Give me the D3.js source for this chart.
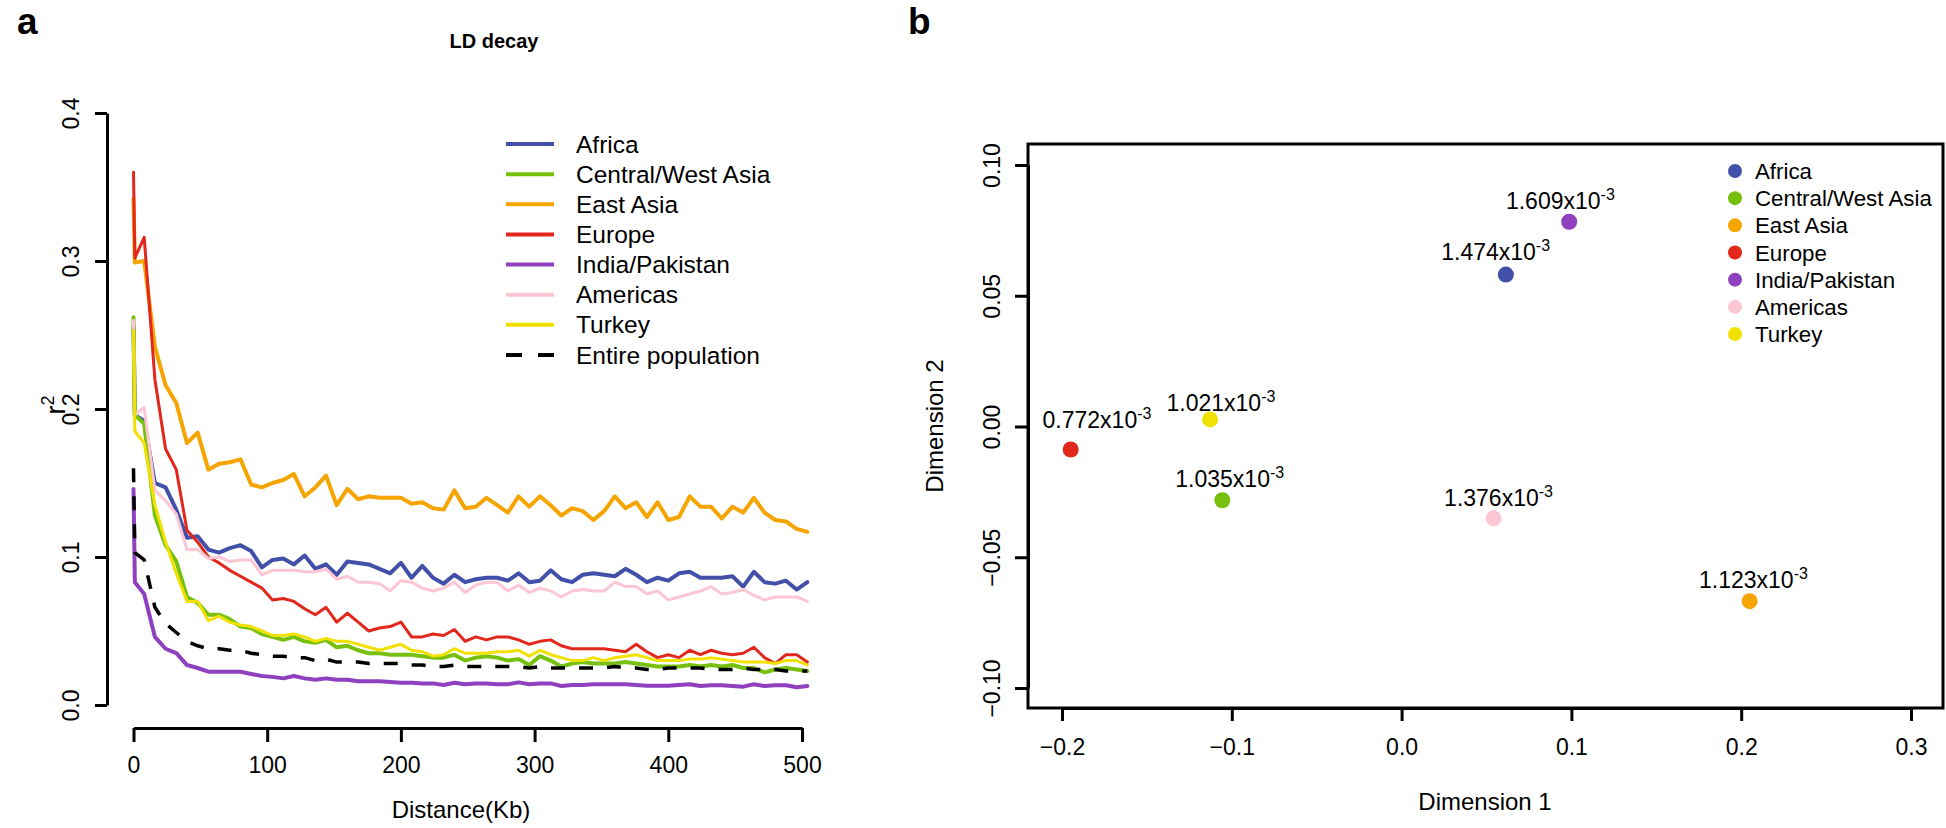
<!DOCTYPE html>
<html><head><meta charset="utf-8">
<script src="https://cdn.jsdelivr.net/npm/d3@7"></script>
<style>
body{margin:0;background:#fff;}
svg text{font-family:"Liberation Sans",Arial,Helvetica,sans-serif;fill:#000;}
</style>
</head><body>
<svg id="chart" width="1946" height="828"></svg>
<script>
// ---------- DATA ----------
const populations = ["Africa","Central/West Asia","East Asia","Europe","India/Pakistan","Americas","Turkey"];
const popColors   = ["#4350A9","#77C10E","#F6A400","#E2281C","#8E40BE","#FCC6D3","#F0E100"];
const entireLabel = "Entire population";

const distanceKb = [0,1,8,16,24,32,40,48,56,64,72,80,88,96,104,112,120,128,136,144,152,160,168,176,184,192,200,208,216,224,232,240,248,256,264,272,280,288,296,304,312,320,328,336,344,352,360,368,376,384,392,400,408,416,424,432,440,448,456,464,472,480,488,496,504];

const ldAfrica = [0.255,0.196,0.192,0.150,0.147,0.132,0.113,0.114,0.105,0.103,0.106,0.108,0.104,0.093,0.098,0.099,0.095,0.101,0.092,0.095,0.088,0.097,0.096,0.095,0.092,0.089,0.096,0.086,0.094,0.086,0.082,0.088,0.083,0.085,0.086,0.086,0.084,0.089,0.083,0.084,0.091,0.085,0.083,0.088,0.089,0.088,0.087,0.092,0.088,0.083,0.086,0.084,0.089,0.090,0.086,0.086,0.086,0.087,0.080,0.090,0.083,0.082,0.084,0.078,0.083];
const ldCentralWestAsia = [0.262,0.196,0.190,0.128,0.108,0.097,0.073,0.069,0.061,0.061,0.058,0.053,0.052,0.048,0.046,0.044,0.046,0.043,0.042,0.044,0.039,0.040,0.037,0.035,0.035,0.034,0.034,0.034,0.033,0.032,0.032,0.034,0.030,0.032,0.033,0.032,0.030,0.031,0.027,0.033,0.030,0.026,0.028,0.029,0.028,0.028,0.028,0.029,0.028,0.027,0.026,0.026,0.026,0.027,0.026,0.027,0.026,0.027,0.025,0.025,0.022,0.024,0.025,0.024,0.023];
const ldEastAsia = [0.342,0.299,0.300,0.242,0.216,0.204,0.177,0.184,0.159,0.163,0.164,0.166,0.149,0.147,0.150,0.152,0.156,0.141,0.147,0.155,0.135,0.146,0.139,0.141,0.140,0.140,0.140,0.136,0.137,0.133,0.132,0.145,0.133,0.134,0.140,0.135,0.130,0.141,0.134,0.141,0.135,0.128,0.133,0.131,0.125,0.131,0.141,0.133,0.137,0.127,0.137,0.125,0.127,0.141,0.134,0.134,0.126,0.134,0.130,0.140,0.130,0.125,0.124,0.119,0.117];
const ldEurope = [0.360,0.302,0.316,0.220,0.173,0.159,0.118,0.110,0.100,0.096,0.091,0.087,0.083,0.079,0.071,0.072,0.070,0.065,0.061,0.066,0.056,0.062,0.056,0.050,0.052,0.053,0.056,0.046,0.046,0.048,0.047,0.051,0.043,0.046,0.044,0.046,0.046,0.044,0.041,0.043,0.044,0.040,0.038,0.038,0.038,0.038,0.037,0.036,0.041,0.036,0.032,0.034,0.032,0.037,0.034,0.037,0.035,0.034,0.035,0.039,0.032,0.028,0.034,0.034,0.029];
const ldIndiaPakistan = [0.146,0.083,0.075,0.046,0.038,0.035,0.027,0.025,0.0225,0.0225,0.0225,0.0225,0.021,0.0196,0.019,0.018,0.0196,0.018,0.017,0.018,0.017,0.017,0.016,0.016,0.016,0.0155,0.015,0.015,0.0146,0.0146,0.0135,0.015,0.014,0.0146,0.0146,0.014,0.014,0.0153,0.014,0.0146,0.0146,0.0128,0.0135,0.0135,0.014,0.014,0.014,0.014,0.0135,0.013,0.013,0.013,0.0135,0.014,0.0128,0.0133,0.0133,0.0128,0.0124,0.014,0.0128,0.0133,0.0133,0.012,0.0128];
const ldAmericas = [0.260,0.196,0.201,0.145,0.138,0.129,0.105,0.105,0.099,0.100,0.097,0.098,0.098,0.088,0.091,0.091,0.091,0.090,0.090,0.092,0.085,0.087,0.083,0.083,0.082,0.077,0.084,0.083,0.079,0.077,0.079,0.083,0.076,0.081,0.083,0.083,0.077,0.081,0.076,0.079,0.077,0.073,0.077,0.078,0.077,0.077,0.083,0.080,0.080,0.075,0.077,0.071,0.073,0.075,0.077,0.080,0.075,0.076,0.078,0.074,0.071,0.073,0.073,0.073,0.070];
const ldTurkey = [0.253,0.185,0.177,0.135,0.110,0.089,0.070,0.070,0.057,0.060,0.056,0.054,0.053,0.050,0.047,0.047,0.048,0.046,0.043,0.045,0.043,0.043,0.041,0.039,0.037,0.039,0.041,0.037,0.036,0.033,0.034,0.038,0.035,0.035,0.035,0.036,0.036,0.037,0.033,0.037,0.034,0.032,0.030,0.030,0.032,0.030,0.032,0.033,0.034,0.032,0.030,0.030,0.030,0.031,0.031,0.032,0.031,0.030,0.029,0.029,0.029,0.028,0.030,0.030,0.027];
const ldEntire = [0.160,0.103,0.098,0.066,0.055,0.049,0.043,0.040,0.038,0.038,0.037,0.037,0.035,0.034,0.033,0.033,0.032,0.032,0.030,0.031,0.029,0.029,0.029,0.028,0.028,0.028,0.028,0.027,0.027,0.026,0.026,0.027,0.026,0.026,0.026,0.026,0.026,0.026,0.025,0.026,0.025,0.025,0.025,0.025,0.025,0.025,0.026,0.025,0.025,0.024,0.024,0.025,0.025,0.025,0.025,0.024,0.024,0.024,0.025,0.024,0.024,0.024,0.023,0.023,0.023];

const xTicksA = [0,100,200,300,400,500];
const yTicksA = [0,0.1,0.2,0.3,0.4];

// panel b: MDS coordinates, in the same order as populations
const mdsDim1 = [0.0614,-0.1056,0.205,-0.1949,0.0987,0.0542,-0.1128];
const mdsDim2 = [0.0581,-0.0282,-0.0668,-0.0088,0.0783,-0.0351,0.0027];
const diversity = ["1.474","1.035","1.123","0.772","1.609","1.376","1.021"];
const labelDim1 = [0.0554,-0.1012,0.2072,-0.1794,0.0935,0.0571,-0.1064];
const labelDim2 = [0.0637,-0.0233,-0.0616,-0.0004,0.0832,-0.0305,0.0061];
const xTicksB = [-0.2,-0.1,0,0.1,0.2,0.3];
const yTicksB = [-0.1,-0.05,0,0.05,0.1];

// ---------- DRAWING ----------
const svg = d3.select("#chart");
const FS = 23;

function styleAxis(g){
  g.attr("font-family",null).attr("font-size",null);
  g.select(".domain").attr("stroke","#000").attr("stroke-width",3);
  g.selectAll(".tick line").attr("stroke","#000").attr("stroke-width",3);
  g.selectAll(".tick text").attr("font-size",FS).attr("fill","#000");
}

// ===== Panel a =====
const xA = d3.scaleLinear().domain([0,500]).range([133.5,802]);
const yA = d3.scaleLinear().domain([0,0.4]).range([705,113]);

svg.append("text").attr("x",17).attr("y",34).attr("font-size",37).attr("font-weight","bold").text("a");
svg.append("text").attr("x",494).attr("y",48).attr("text-anchor","middle").attr("font-size",20).attr("font-weight","bold").text("LD decay");

const gxA = svg.append("g").attr("transform","translate(0,728)")
  .call(d3.axisBottom(xA).tickValues(xTicksA).tickSize(14).tickSizeOuter(0).tickPadding(15).tickFormat(d3.format("d")));
styleAxis(gxA);

const gyA = svg.append("g").attr("transform","translate(107,0)")
  .call(d3.axisLeft(yA).tickValues(yTicksA).tickSize(12).tickSizeOuter(0).tickFormat(d3.format(".1f")));
styleAxis(gyA);
gyA.selectAll(".tick text").attr("transform","rotate(-90)").attr("x",0).attr("y",-28).attr("dy",0).attr("text-anchor","middle");

svg.append("text").attr("x",461).attr("y",818).attr("text-anchor","middle").attr("font-size",24).text("Distance(Kb)");
const rl = svg.append("text").attr("transform","translate(65,405) rotate(-90)").attr("text-anchor","middle").attr("font-size",27);
rl.append("tspan").text("r");
rl.append("tspan").attr("font-size",18).attr("dy",-11).text("2");

const seriesA = [
  {vals: ldAfrica, color: popColors[0], w: 4},
  {vals: ldCentralWestAsia, color: popColors[1], w: 4},
  {vals: ldEastAsia, color: popColors[2], w: 4},
  {vals: ldEurope, color: popColors[3], w: 3},
  {vals: ldIndiaPakistan, color: popColors[4], w: 4},
  {vals: ldAmericas, color: popColors[5], w: 3},
  {vals: ldTurkey, color: popColors[6], w: 3},
  {vals: ldEntire, color: "#000", w: 3.5, dash: "14 14"}
];
const lineA = d3.line().x((d,i)=>xA(distanceKb[i])).y(d=>yA(d));
svg.append("g").selectAll("path").data(seriesA).join("path")
  .attr("d", s=>lineA(s.vals))
  .attr("fill","none").attr("stroke",s=>s.color).attr("stroke-width",s=>s.w)
  .attr("stroke-linejoin","round").attr("stroke-linecap",s=>s.dash?"butt":"round")
  .attr("stroke-dasharray",s=>s.dash||null);

// legend a
const legA = svg.append("g");
const legAItems = populations.map((p,i)=>({label:p,color:popColors[i],dash:null})).concat([{label:entireLabel,color:"#000",dash:"16 16"}]);
const legAy = d3.scalePoint().domain(d3.range(legAItems.length)).range([144,355]);
legA.selectAll("line").data(legAItems).join("line")
  .attr("x1",506).attr("x2",554).attr("y1",(d,i)=>legAy(i)).attr("y2",(d,i)=>legAy(i))
  .attr("stroke",d=>d.color).attr("stroke-width",4).attr("stroke-dasharray",d=>d.dash);
legA.selectAll("text").data(legAItems).join("text")
  .attr("x",576).attr("y",(d,i)=>legAy(i)+8.5).attr("font-size",24.5).text(d=>d.label);

// ===== Panel b =====
const xB = d3.scaleLinear().domain([-0.2,0.3]).range([1062,1911]);
const yB = d3.scaleLinear().domain([-0.1,0.1]).range([688,165]);

svg.append("text").attr("x",908).attr("y",34).attr("font-size",37).attr("font-weight","bold").text("b");

svg.append("rect").attr("x",1028).attr("y",144).attr("width",915).attr("height",564)
  .attr("fill","none").attr("stroke","#000").attr("stroke-width",3);

const gxB = svg.append("g").attr("transform","translate(0,708)")
  .call(d3.axisBottom(xB).tickValues(xTicksB).tickSize(13).tickSizeOuter(0).tickPadding(18).tickFormat(d3.format(".1f")));
styleAxis(gxB);
const gyB = svg.append("g").attr("transform","translate(1028,0)")
  .call(d3.axisLeft(yB).tickValues(yTicksB).tickSize(13).tickSizeOuter(0).tickFormat(d3.format(".2f")));
styleAxis(gyB);
gyB.selectAll(".tick text").attr("transform","rotate(-90)").attr("x",0).attr("y",-28).attr("dy",0).attr("text-anchor","middle");

svg.append("text").attr("x",1485).attr("y",810).attr("text-anchor","middle").attr("font-size",24).text("Dimension 1");
svg.append("text").attr("transform","translate(943,426) rotate(-90)").attr("text-anchor","middle").attr("font-size",24).text("Dimension 2");

const ptsB = populations.map((p,i)=>({p, x:mdsDim1[i], y:mdsDim2[i], lx:labelDim1[i], ly:labelDim2[i], v:diversity[i], c:popColors[i]}));
svg.append("g").selectAll("circle").data(ptsB).join("circle")
  .attr("cx",d=>xB(d.x)).attr("cy",d=>yB(d.y)).attr("r",8).attr("fill",d=>d.c);
const lbl = svg.append("g").selectAll("text").data(ptsB).join("text")
  .attr("x",d=>xB(d.lx)).attr("y",d=>yB(d.ly)).attr("text-anchor","middle").attr("font-size",FS);
lbl.append("tspan").text(d=>d.v+"x10");
lbl.append("tspan").attr("font-size",16).attr("dy",-9).text("-3");

// legend b
const legBy = d3.scalePoint().domain(d3.range(populations.length)).range([171,334]);
const legB = svg.append("g");
legB.selectAll("circle").data(populations).join("circle")
  .attr("cx",1735).attr("cy",(d,i)=>legBy(i)).attr("r",7).attr("fill",(d,i)=>popColors[i]);
legB.selectAll("text").data(populations).join("text")
  .attr("x",1755).attr("y",(d,i)=>legBy(i)+8).attr("font-size",22.3).text(d=>d);
</script>
</body></html>
